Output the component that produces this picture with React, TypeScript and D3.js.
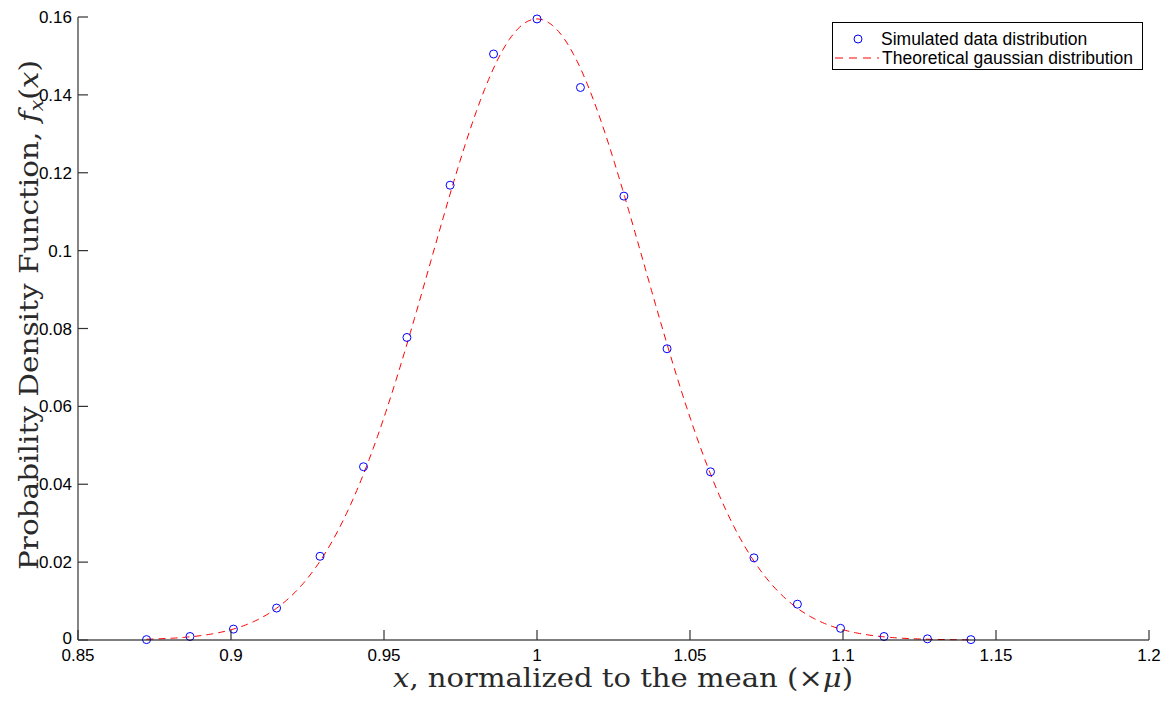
import React from "react";
import * as d3 from "d3";

// Histogram-based estimate of the normalized distribution (bin centres and densities)
const binCenters = [
  0.8724, 0.8866, 0.9008, 0.9149, 0.9291, 0.9433, 0.9575, 0.9716, 0.9858, 1.0,
  1.0142, 1.0284, 1.0425, 1.0567, 1.0709, 1.0851, 1.0992, 1.1134, 1.1276, 1.1418,
];
const simulatedDensity = [
  0.0001, 0.0009, 0.0028, 0.0082, 0.0215, 0.0445, 0.0777, 0.1168, 0.1505, 0.1595,
  0.1419, 0.1140, 0.0748, 0.0432, 0.0211, 0.0092, 0.0030, 0.0009, 0.0003, 0.0001,
];

// Parameters of the theoretical gaussian curve
const gaussMean = 1.0;
const gaussSigma = 0.0349;
const gaussPeak = 0.1595;

const xTicks = [0.85, 0.9, 0.95, 1, 1.05, 1.1, 1.15, 1.2];
const yTicks = [0, 0.02, 0.04, 0.06, 0.08, 0.1, 0.12, 0.14, 0.16];

const W = 1176;
const H = 711;
const left = 78;
const right = 1149;
const top = 17;
const bottom = 640;

export default function App() {
  const x = d3.scaleLinear().domain([0.85, 1.2]).range([left, right]);
  const y = d3.scaleLinear().domain([0, 0.16]).range([bottom, top]);

  const x0 = binCenters[0];
  const x1 = binCenters[binCenters.length - 1];
  const curveX = d3.range(0, 401).map((i) => x0 + ((x1 - x0) * i) / 400);
  const curve = curveX.map((v) => [
    v,
    gaussPeak * Math.exp(-((v - gaussMean) ** 2) / (2 * gaussSigma * gaussSigma)),
  ]);
  const line = d3
    .line<number[]>()
    .x((d) => x(d[0]))
    .y((d) => y(d[1]));

  const tickFont = "'Liberation Sans', Arial, Helvetica, sans-serif";
  const serif = "'DejaVu Serif', 'Liberation Serif', serif";

  return (
    <svg
      width={W}
      height={H}
      style={{ position: "absolute", left: 0, top: 0, background: "#fff" }}
    >
      <rect x={0} y={0} width={W} height={H} fill="#fff" />
      <path
        d={line(curve) || ""}
        fill="none"
        stroke="#ff0000"
        strokeWidth={1}
        strokeDasharray="7,5"
      />
      {binCenters.map((v, i) => (
        <circle
          key={i}
          cx={x(v)}
          cy={y(simulatedDensity[i])}
          r={4}
          fill="none"
          stroke="#0000ff"
          strokeWidth={1}
        />
      ))}

      {/* axes */}
      <line x1={left} y1={bottom} x2={right} y2={bottom} stroke="#000" strokeWidth={1.2} />
      <line x1={left} y1={bottom} x2={left} y2={top} stroke="#333" strokeWidth={1.2} />

      {xTicks.map((t) => (
        <g key={t}>
          <line x1={x(t)} x2={x(t)} y1={bottom} y2={bottom - 10} stroke="#333" strokeWidth={1.2} />
          <text
            x={x(t)}
            y={661}
            textAnchor="middle"
            fontFamily={tickFont}
            fontSize={17}
            fill="#000"
          >
            {String(t)}
          </text>
        </g>
      ))}
      {yTicks.map((t) => (
        <g key={t}>
          <line x1={left} x2={left + 10} y1={y(t)} y2={y(t)} stroke="#333" strokeWidth={1.2} />
          <text
            x={72}
            y={y(t) + (t === 0 ? 4 : 6)}
            textAnchor="end"
            fontFamily={tickFont}
            fontSize={17}
            fill="#000"
          >
            {String(t)}
          </text>
        </g>
      ))}

      {/* axis titles */}
      <text
        x={623}
        y={687}
        textAnchor="middle"
        fontFamily={serif}
        fontSize={26}
        fill="#2a2a2a"
        textLength={460}
        lengthAdjust="spacingAndGlyphs"
      >
        <tspan fontStyle="italic">x</tspan>, normalized to the mean (×<tspan fontStyle="italic">μ</tspan>)
      </text>
      <text
        transform={`translate(38, 315) rotate(-90)`}
        textAnchor="middle"
        fontFamily={serif}
        fontSize={26}
        fill="#2a2a2a"
        textLength={510}
        lengthAdjust="spacingAndGlyphs"
      >
        Probability Density Function, <tspan fontStyle="italic">f</tspan>
        <tspan fontStyle="italic" fontSize={18} dy={5}>x</tspan>
        <tspan dy={-5}>(</tspan>
        <tspan fontStyle="italic">x</tspan>)
      </text>

      {/* legend */}
      <rect x={832.5} y={22.5} width={310} height={47} fill="#fff" stroke="#000" strokeWidth={1} />
      <circle cx={858} cy={39} r={4} fill="none" stroke="#0000ff" strokeWidth={1} />
      <text x={881} y={45} fontFamily={tickFont} fontSize={17.5} fill="#000">
        Simulated data distribution
      </text>
      <line x1={835} x2={879} y1={58} y2={58} stroke="#ff0000" strokeWidth={1} strokeDasharray="8,6" />
      <text x={882} y={64} fontFamily={tickFont} fontSize={17.5} fill="#000">
        Theoretical gaussian distribution
      </text>
    </svg>
  );
}
